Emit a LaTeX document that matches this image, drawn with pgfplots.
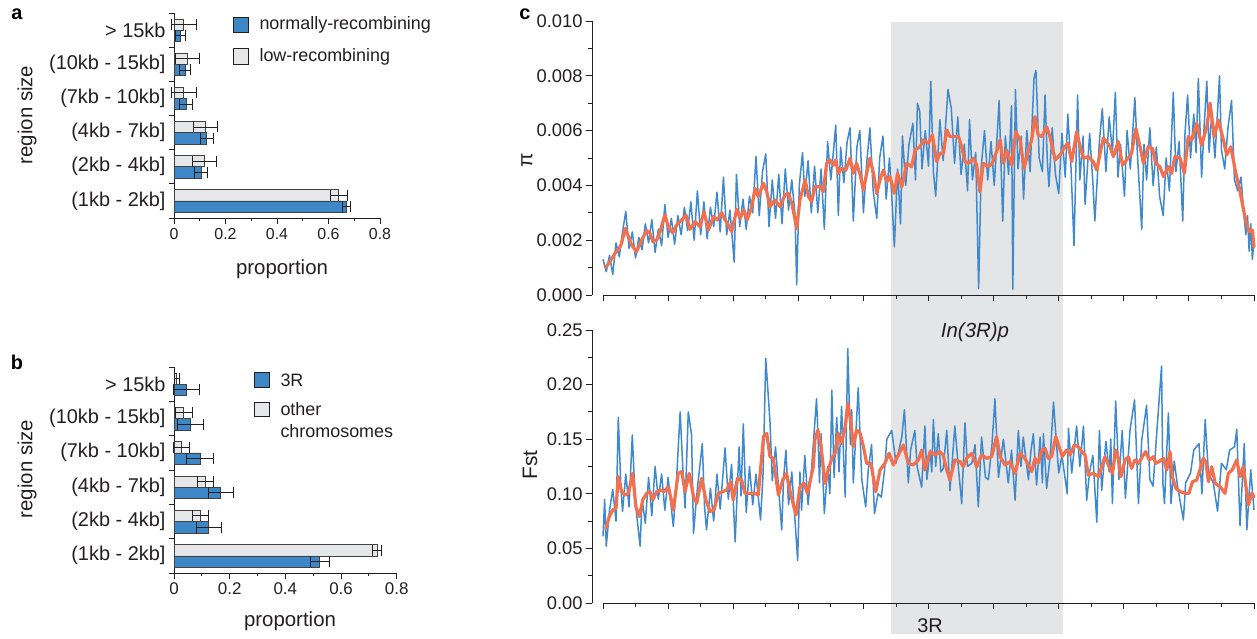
\documentclass[border=0pt]{standalone}
\usepackage{fontspec}
\setmainfont{Liberation Sans}
\usepackage{pgfplots}
\pgfplotsset{compat=1.18}
\definecolor{barblue}{RGB}{61,135,199}
\definecolor{bargray}{RGB}{230,231,232}
\definecolor{lineblue}{RGB}{63,137,204}
\definecolor{linered}{RGB}{243,112,79}
\definecolor{shadegray}{RGB}{228,229,231}
\definecolor{txt}{RGB}{35,31,32}
\newcommand{\fs}[1]{\fontsize{#1}{#1}\selectfont}
\pgfplotsset{
  barax/.style={
    scale only axis, anchor=south west, clip=false,
    axis lines=left, axis line style={-, txt, line width=0.8bp},
    xmin=0, xmax=0.8, ymin=-0.5, ymax=5.5, enlargelimits=false,
    xtick={0,0.2,0.4,0.6,0.8}, minor xtick={0.1,0.3,0.5,0.7},
    ytick={0,1,2,3,4,5}, minor ytick={-0.5,0.5,1.5,2.5,3.5,4.5,5.5},
    yticklabels={{(1kb - 2kb]},{(2kb - 4kb]},{(4kb - 7kb]},{(7kb - 10kb]},{(10kb - 15kb]},{> 15kb}},
    tick align=outside, major tick length=0bp, minor tick length=5.5bp,
    major x tick style={/pgfplots/major tick length=6bp},
    tick style={txt, line width=0.8bp},
    minor x tick style={/pgfplots/minor tick length=3bp},
    /pgf/number format/assume math mode=true,
    yticklabel style={font=\fs{20}, text=txt, xshift=-5bp},
    xticklabel style={font=\fs{16}, text=txt},
  },
  bblue/.style={xbar, bar width=0.33, bar shift=-0.165, fill=barblue, draw=txt!85, line width=0.6bp},
  bgray/.style={xbar, bar width=0.33, bar shift=0.165, fill=bargray, draw=txt!85, line width=0.6bp},
  ebar/.style={forget plot, draw=none, mark=none,
    error bars/.cd, x dir=both, x explicit, error mark=none,
    error bar style={draw=txt, line width=0.7bp}},
  ecap/.style={forget plot, only marks, mark=|, mark size=5.5bp,
    mark options={draw=txt, line width=0.7bp}},
  lineax/.style={
    scale only axis, anchor=south west, clip=false, axis on top,
    width=662bp, xmin=-0.338, xmax=20, enlargelimits=false,
    axis lines=left, axis line style={-, txt, line width=0.9bp},
    x axis line style={draw=none},
    xtick={0,2,...,20}, minor xtick={1,3,...,19}, xticklabels={},
    tick align=outside, major tick length=6bp, minor tick length=4bp,
    tick style={txt, line width=0.9bp},
    yticklabel style={font=\fs{18.4}, text=txt},
  },
  blueline/.style={lineblue, line width=1.5bp, line join=round},
  redline/.style={linered, line width=3.2bp, line join=round, line cap=round},
}
\begin{document}
\begin{tikzpicture}
\path[use as bounding box] (0,0) rectangle (1257bp,639bp);

% ---------------- panel a
\begin{axis}[barax, at={(174bp,421bp)}, width=206bp, height=205bp, xticklabel style={yshift=-7bp}]
\addplot[bgray] coordinates {(0.640,0) (0.119,1) (0.122,2) (0.037,3) (0.051,4) (0.038,5)};
\addplot[bblue] coordinates {(0.668,0) (0.105,1) (0.127,2) (0.046,3) (0.042,4) (0.025,5)};
\addplot[ebar] coordinates {(0.640,0.165) +- (0.032,0) (0.119,1.165) +- (0.047,0) (0.122,2.165) +- (0.047,0) (0.037,3.165) +- (0.048,0) (0.051,4.165) +- (0.046,0) (0.038,5.165) +- (0.048,0)};
\addplot[ebar] coordinates {(0.668,-0.165) +- (0.016,0) (0.105,0.835) +- (0.026,0) (0.127,1.835) +- (0.026,0) (0.046,2.835) +- (0.024,0) (0.042,3.835) +- (0.023,0) (0.025,4.835) +- (0.021,0)};
\addplot[ecap] coordinates {(0.608,0.165) (0.672,0.165) (0.072,1.165) (0.166,1.165) (0.075,2.165) (0.169,2.165) (-0.011,3.165) (0.085,3.165) (0.005,4.165) (0.097,4.165) (-0.010,5.165) (0.086,5.165)};
\addplot[ecap] coordinates {(0.652,-0.165) (0.684,-0.165) (0.079,0.835) (0.131,0.835) (0.101,1.835) (0.153,1.835) (0.022,2.835) (0.070,2.835) (0.019,3.835) (0.065,3.835) (0.004,4.835) (0.046,4.835)};
\end{axis}

% ---------------- panel b
\begin{axis}[barax, at={(174bp,66bp)}, width=222.7bp, height=206bp, xticklabel style={font=\fs{17}, yshift=-6bp}]
\addplot[bgray] coordinates {(0.729,0) (0.096,1) (0.113,2) (0.027,3) (0.035,4) (0.010,5)};
\addplot[bblue] coordinates {(0.523,0) (0.124,1) (0.168,2) (0.093,3) (0.059,4) (0.045,5)};
\addplot[ebar] coordinates {(0.729,0.165) +- (0.017,0) (0.096,1.165) +- (0.029,0) (0.113,2.165) +- (0.029,0) (0.027,3.165) +- (0.028,0) (0.035,4.165) +- (0.030,0) (0.010,5.165) +- (0.008,0)};
\addplot[ebar] coordinates {(0.523,-0.165) +- (0.034,0) (0.124,0.835) +- (0.045,0) (0.168,1.835) +- (0.045,0) (0.093,2.835) +- (0.047,0) (0.059,3.835) +- (0.046,0) (0.045,4.835) +- (0.046,0)};
\addplot[ecap] coordinates {(0.712,0.165) (0.746,0.165) (0.067,1.165) (0.125,1.165) (0.084,2.165) (0.142,2.165) (-0.001,3.165) (0.055,3.165) (0.005,4.165) (0.065,4.165) (0.002,5.165) (0.018,5.165)};
\addplot[ecap] coordinates {(0.489,-0.165) (0.557,-0.165) (0.079,0.835) (0.169,0.835) (0.123,1.835) (0.213,1.835) (0.046,2.835) (0.140,2.835) (0.013,3.835) (0.105,3.835) (-0.001,4.835) (0.091,4.835)};
\end{axis}

% legends and labels a, b
\draw[txt, line width=0.7bp, fill=barblue] (233bp,622bp) rectangle (248bp,607bp);
\node[anchor=west, font=\fs{18}, text=txt] at (256bp,614bp) {normally-recombining};
\draw[txt, line width=0.7bp, fill=bargray] (233bp,591bp) rectangle (248bp,575bp);
\node[anchor=west, font=\fs{18}, text=txt] at (256bp,582bp) {low-recombining};
\draw[txt, line width=0.7bp, fill=barblue] (254bp,267bp) rectangle (269bp,252bp);
\node[anchor=west, font=\fs{18}, text=txt] at (277bp,259bp) {3R};
\draw[txt, line width=0.7bp, fill=bargray] (254bp,237bp) rectangle (269bp,223bp);
\node[anchor=west, font=\fs{18}, text=txt] at (277bp,230bp) {other};
\node[anchor=west, font=\fs{18}, text=txt] at (277bp,208bp) {chromosomes};
\node[font=\bfseries\fs{20}, text=black] at (17bp,625bp) {a};
\node[font=\bfseries\fs{20}, text=black] at (17bp,277bp) {b};
\node[font=\bfseries\fs{20}, text=black] at (525bp,625bp) {c};
\node[rotate=90, font=\fs{20.5}, text=txt] at (27bp,524bp) {region size};
\node[rotate=90, font=\fs{20.5}, text=txt] at (27bp,170bp) {region size};
\node[font=\fs{20.5}, text=txt] at (282bp,370bp) {proportion};
\node[font=\fs{20.5}, text=txt] at (290bp,18bp) {proportion};

% ---------------- panel c top (pi, in units of 1e-3)
\begin{axis}[lineax, at={(592bp,344bp)}, height=274bp, ymin=0, ymax=10,
  ytick={0,2,4,6,8,10}, minor ytick={1,3,5,7,9},
  yticklabels={0.000,0.002,0.004,0.006,0.008,0.010}]
\fill[shadegray] (axis cs:8.85,9.97) rectangle (axis cs:14.13,-0.55);
\addplot[blueline] table {
x y
0.0 1.3
0.1 0.85
0.2 1.45
0.3 0.75
0.4 1.9
0.5 1.4
0.6 2.3
0.7 3.05
0.8 1.7
0.9 2.3
1.0 1.35
1.1 2.1
1.2 1.65
1.3 2.6
1.4 1.9
1.5 2.75
1.6 1.55
1.7 2.4
1.8 1.8
1.9 3.3
2.0 2.1
2.1 2.8
2.2 1.85
2.3 2.9
2.4 2.2
2.5 3.2
2.6 2.35
2.7 3.4
2.8 2.0
2.9 3.8
3.0 2.2
3.1 3.4
3.2 2.05
3.3 3.2
3.4 2.5
3.5 3.75
3.6 2.3
3.7 4.3
3.8 2.2
3.9 3.1
4.03 1.2
4.1 4.4
4.2 2.5
4.3 3.5
4.4 2.4
4.5 3.6
4.6 3.0
4.7 5.05
4.8 2.9
4.9 4.5
5.0 5.15
5.1 2.5
5.2 4.2
5.3 2.8
5.4 4.4
5.5 2.6
5.6 4.6
5.7 3.1
5.8 4.2
5.9 2.9
5.95 0.37
6.03 4.0
6.13 5.2
6.2 3.6
6.3 4.9
6.4 3.0
6.5 4.7
6.6 3.0
6.7 4.6
6.8 2.4
6.9 5.6
7.0 4.2
7.15 6.2
7.23 2.9
7.3 5.4
7.4 4.1
7.5 5.6
7.59 6.1
7.69 2.7
7.8 5.4
7.89 6.0
8.0 3.0
8.1 4.8
8.2 6.1
8.3 3.8
8.41 2.8
8.5 5.0
8.6 5.8
8.7 3.5
8.8 5.0
8.88 3.4
8.95 1.76
9.05 4.6
9.14 2.6
9.2 5.8
9.3 4.0
9.4 5.5
9.52 6.27
9.6 4.2
9.66 7.0
9.73 6.7
9.8 4.6
9.9 6.0
10.0 4.7
10.07 7.8
10.15 4.5
10.22 3.6
10.35 6.4
10.45 4.9
10.6 7.5
10.7 6.8
10.8 4.8
10.9 6.5
11.0 4.4
11.1 5.5
11.2 3.8
11.26 6.4
11.35 4.2
11.45 5.2
11.54 0.24
11.62 4.7
11.72 6.0
11.82 4.2
11.92 5.6
12.02 4.0
12.17 7.1
12.28 2.7
12.36 5.8
12.46 4.4
12.55 6.9
12.59 0.21
12.67 7.5
12.75 4.6
12.85 5.8
12.92 3.5
13.02 6.0
13.12 4.5
13.24 7.9
13.3 8.2
13.4 5.0
13.5 4.5
13.58 7.3
13.65 4.9
13.7 3.95
13.8 6.1
13.9 4.4
14.0 3.7
14.1 5.9
14.2 4.3
14.28 6.6
14.38 4.6
14.47 1.8
14.58 7.3
14.65 4.2
14.75 5.8
14.81 3.3
14.95 5.9
15.05 4.1
15.11 2.7
15.25 5.6
15.34 6.8
15.45 4.5
15.55 6.5
15.65 5.2
15.74 7.4
15.82 4.3
15.9 5.5
16.02 3.6
16.1 6.0
16.2 4.6
16.34 7.2
16.42 5.1
16.55 2.4
16.62 5.5
16.7 4.2
16.8 6.1
16.9 4.0
17.0 5.4
17.1 3.6
17.21 2.9
17.3 5.0
17.4 3.8
17.52 7.4
17.6 4.5
17.7 5.6
17.81 2.7
17.88 5.9
17.96 7.3
18.05 5.0
18.15 6.6
18.22 5.2
18.29 7.9
18.39 4.3
18.47 6.2
18.55 7.8
18.62 5.2
18.7 6.6
18.8 5.0
18.94 8.0
19.0 5.3
19.1 4.6
19.2 6.1
19.31 7.1
19.4 4.2
19.5 3.8
19.6 4.3
19.7 2.8
19.75 2.2
19.8 2.9
19.85 1.6
19.9 2.6
19.95 1.3
20.0 2.0
};
\addplot[redline] table {
x y
0.09 1.01
0.21 1.22
0.37 1.52
0.50 1.70
0.57 1.89
0.68 2.43
0.78 2.13
0.88 1.82
1.03 1.58
1.19 2.01
1.34 2.35
1.44 2.27
1.53 1.95
1.65 2.01
1.75 2.31
1.90 2.92
2.01 2.49
2.14 2.27
2.26 2.55
2.42 2.74
2.55 2.92
2.67 2.40
2.83 2.68
2.98 2.49
3.10 3.04
3.24 2.37
3.39 2.86
3.51 2.74
3.65 3.00
3.75 2.74
3.85 2.55
3.95 2.31
4.11 3.13
4.21 2.80
4.33 3.10
4.43 2.74
4.57 3.22
4.67 3.89
4.77 3.59
4.93 4.08
5.03 3.77
5.13 3.22
5.28 3.47
5.44 3.22
5.59 3.65
5.69 3.71
5.80 3.35
5.95 2.43
6.05 3.47
6.21 4.20
6.31 3.59
6.41 3.41
6.51 3.95
6.67 3.95
6.77 3.77
6.87 4.81
6.97 4.93
7.08 4.74
7.15 4.93
7.23 4.44
7.33 4.62
7.46 4.56
7.59 4.99
7.69 4.44
7.79 4.81
7.90 4.38
8.00 3.83
8.10 4.44
8.20 4.99
8.31 4.44
8.41 3.71
8.51 4.20
8.61 4.56
8.72 4.14
8.82 4.32
8.95 3.71
9.05 4.44
9.18 3.95
9.33 4.81
9.48 4.68
9.59 5.29
9.74 5.41
9.84 5.66
10.00 5.54
10.12 5.84
10.25 4.87
10.35 5.17
10.46 5.17
10.56 6.02
10.66 5.78
10.76 5.78
10.92 5.78
11.02 5.41
11.12 4.87
11.24 4.81
11.38 4.99
11.48 4.74
11.58 3.77
11.68 4.81
11.84 4.68
11.96 4.81
12.09 5.23
12.20 5.66
12.30 4.81
12.40 5.29
12.56 4.74
12.68 5.96
12.81 5.66
12.94 4.62
13.07 5.29
13.17 5.66
13.27 6.51
13.37 5.84
13.48 5.78
13.63 6.14
13.73 5.78
13.89 4.93
14.04 5.11
14.19 5.41
14.28 5.54
14.40 4.87
14.55 5.96
14.66 5.41
14.76 4.99
14.91 5.05
15.06 4.87
15.17 4.56
15.27 5.17
15.37 5.72
15.47 5.60
15.58 5.41
15.68 5.05
15.83 5.60
15.96 4.74
16.09 4.93
16.24 5.17
16.37 6.08
16.50 5.41
16.60 4.81
16.75 5.41
16.88 5.35
16.98 4.81
17.11 4.68
17.22 4.32
17.37 4.68
17.47 4.44
17.57 5.05
17.73 4.99
17.86 4.44
17.98 5.78
18.09 5.66
18.24 6.27
18.39 5.47
18.55 6.14
18.65 7.00
18.78 5.78
18.90 6.39
19.06 5.66
19.16 5.11
19.29 5.41
19.42 4.56
19.54 3.95
19.64 3.35
19.74 2.74
19.85 2.31
19.95 2.37
20.00 1.76
};
\draw[txt, line width=0.9bp] (axis cs:0,0) -- (axis cs:20,0);
\end{axis}

% ---------------- panel c bottom (Fst, in units of 0.01)
\begin{axis}[lineax, at={(592bp,36bp)}, height=273bp, ymin=0, ymax=25,
  ytick={0,5,10,15,20,25}, minor ytick={2.5,7.5,12.5,17.5,22.5},
  yticklabels={0.00,0.05,0.10,0.15,0.20,0.25}]
\fill[shadegray] (axis cs:8.85,26.9) rectangle (axis cs:14.13,-2.84);
\addplot[blueline] table {
x y
0.0 6.1
0.05 9.5
0.1 5.2
0.2 8.5
0.3 10.4
0.4 7.5
0.47 17.0
0.55 10.5
0.6 8.4
0.7 11.8
0.8 8.8
0.9 15.4
0.95 12.0
1.0 9.0
1.14 5.2
1.2 9.5
1.3 7.3
1.4 11.5
1.5 8.0
1.6 12.5
1.7 9.5
1.8 11.8
1.9 8.5
2.0 11.5
2.16 7.0
2.25 10.8
2.37 17.5
2.45 12.5
2.52 8.7
2.62 17.5
2.72 15.4
2.78 6.4
2.9 10.5
3.05 14.6
3.12 8.8
3.18 6.7
3.3 10.5
3.4 7.5
3.5 11.8
3.6 8.6
3.75 14.2
3.85 9.5
3.95 12.7
4.06 5.6
4.18 14.3
4.24 9.8
4.31 16.4
4.4 8.3
4.5 12.5
4.6 9.0
4.7 11.8
4.84 7.6
4.92 12.0
5.0 22.4
5.13 16.6
5.2 11.2
5.3 14.3
5.49 6.7
5.55 11.5
5.62 14.0
5.7 9.0
5.8 12.0
5.98 3.9
6.05 12.0
6.1 8.5
6.2 13.5
6.3 9.0
6.4 12.0
6.56 18.7
6.6 15.8
6.65 11.0
6.7 15.5
6.8 8.2
6.9 12.5
6.97 10.0
7.03 19.5
7.1 11.5
7.18 17.0
7.25 12.0
7.33 18.0
7.44 9.7
7.52 23.3
7.6 14.5
7.64 17.7
7.69 11.0
7.84 19.7
7.95 11.3
8.07 8.8
8.15 12.2
8.25 14.5
8.34 8.2
8.45 10.0
8.55 9.7
8.65 12.2
8.72 15.0
8.87 15.8
9.0 12.8
9.18 15.2
9.26 17.7
9.38 11.0
9.45 14.0
9.58 15.8
9.65 12.5
9.79 10.6
9.89 16.2
9.95 11.3
10.05 14.0
10.1 12.0
10.15 16.8
10.22 12.5
10.3 15.5
10.38 12.0
10.45 12.3
10.56 15.8
10.66 10.3
10.81 16.2
10.9 13.0
11.02 9.1
11.12 16.5
11.2 12.5
11.33 12.8
11.43 14.5
11.53 8.8
11.63 15.2
11.75 11.5
11.84 11.3
11.95 14.5
12.04 18.7
12.15 11.5
12.3 15.0
12.45 11.0
12.55 14.0
12.66 9.4
12.76 15.8
12.84 12.5
12.91 15.2
13.07 11.3
13.15 14.0
13.22 15.5
13.32 10.8
13.43 15.2
13.5 11.0
13.53 15.5
13.63 10.5
13.74 13.5
13.84 18.4
13.9 15.9
14.0 11.9
14.1 13.5
14.26 10.0
14.3 16.0
14.4 11.9
14.55 16.2
14.65 12.5
14.76 16.2
14.86 9.4
14.95 12.0
15.05 13.5
15.17 7.4
15.25 15.8
15.32 10.3
15.45 14.8
15.55 12.0
15.6 15.0
15.65 9.1
15.75 18.5
15.85 11.3
15.95 15.8
16.05 9.6
16.19 15.8
16.33 18.6
16.45 9.1
16.55 14.9
16.7 18.1
16.8 11.3
16.9 10.7
17.01 15.5
17.16 21.7
17.2 11.0
17.25 9.1
17.37 17.4
17.45 9.1
17.55 13.0
17.65 10.7
17.83 7.6
17.9 11.0
18.05 11.9
18.15 14.0
18.31 14.6
18.4 10.0
18.5 16.8
18.6 11.9
18.75 11.0
18.88 8.4
19.0 12.8
19.15 12.2
19.25 14.0
19.4 14.3
19.47 15.9
19.57 7.1
19.7 14.6
19.78 6.7
19.9 12.2
19.95 10.3
20.0 8.5
};
\addplot[redline] table {
x y
0.09 6.84
0.19 7.91
0.30 8.52
0.40 8.67
0.47 11.57
0.57 10.20
0.68 9.89
0.78 10.04
0.91 11.87
1.01 8.82
1.12 7.91
1.22 9.43
1.34 10.04
1.44 10.20
1.53 9.43
1.65 10.20
1.77 10.35
1.87 10.20
2.01 10.65
2.16 8.52
2.31 11.87
2.42 12.03
2.52 10.20
2.65 11.87
2.78 9.74
2.88 9.13
3.03 11.42
3.16 9.43
3.29 8.36
3.41 8.52
3.54 10.04
3.68 10.20
3.80 10.35
3.92 11.11
4.00 9.43
4.13 11.42
4.26 11.26
4.36 10.04
4.52 10.04
4.67 10.04
4.77 9.89
4.93 15.23
5.03 15.54
5.13 13.40
5.23 13.25
5.39 9.89
5.52 11.26
5.64 11.87
5.77 9.89
5.93 8.06
6.05 10.65
6.18 10.96
6.28 10.04
6.46 12.48
6.51 14.93
6.60 15.84
6.70 14.32
6.82 10.96
6.92 12.18
7.03 13.25
7.13 13.71
7.23 15.54
7.33 14.62
7.44 16.15
7.52 18.28
7.62 16.45
7.69 14.32
7.79 15.84
7.90 15.54
8.00 14.32
8.10 12.79
8.23 12.79
8.38 10.20
8.51 12.18
8.66 12.79
8.79 13.71
8.92 12.64
9.07 13.55
9.23 14.47
9.38 12.79
9.53 12.64
9.69 13.10
9.79 14.01
9.89 12.18
10.05 13.86
10.20 13.55
10.35 13.86
10.45 13.55
10.56 12.18
10.66 11.26
10.81 13.10
10.97 12.94
11.07 12.48
11.17 13.25
11.33 13.71
11.48 12.48
11.63 13.55
11.79 13.25
11.94 13.40
12.09 15.23
12.20 13.40
12.35 12.64
12.50 12.94
12.66 11.87
12.81 13.71
12.96 13.25
13.17 12.03
13.27 13.25
13.37 12.79
13.48 14.01
13.58 14.16
13.68 13.25
13.78 13.40
13.91 15.23
14.01 14.32
14.11 13.40
14.24 14.01
14.35 13.55
14.48 14.47
14.60 14.32
14.71 13.86
14.81 13.55
14.91 11.72
15.06 11.87
15.22 11.57
15.32 12.48
15.42 13.40
15.55 12.48
15.65 11.87
15.75 14.01
15.83 13.25
15.91 11.57
16.04 13.10
16.14 13.40
16.24 12.33
16.34 13.10
16.45 12.79
16.57 13.40
16.67 13.86
16.78 13.10
16.91 13.40
16.98 12.79
17.08 12.94
17.22 13.25
17.32 12.18
17.42 13.86
17.49 11.57
17.60 10.50
17.73 10.20
17.88 10.04
18.00 10.04
18.11 11.11
18.24 11.26
18.34 12.18
18.44 13.25
18.52 12.94
18.60 11.11
18.70 12.48
18.81 10.96
18.96 10.65
19.11 10.04
19.21 11.87
19.33 12.18
19.47 13.10
19.57 11.57
19.67 12.48
19.83 8.97
19.93 10.04
20.00 9.74
};
\draw[txt, line width=0.9bp] (axis cs:0,0) -- (axis cs:20,0);
\end{axis}

\node[rotate=90, font=\fs{21}, text=txt] at (527bp,479bp) {π};
\node[rotate=90, font=\fs{21}, text=txt] at (530bp,174bp) {Fst};
\node[font=\fs{20}, text=txt] at (930bp,13bp) {3R};
\node[font=\itshape\fs{20.5}, text=txt] at (975bp,307bp) {In(3R)p};
\end{tikzpicture}
\end{document}
